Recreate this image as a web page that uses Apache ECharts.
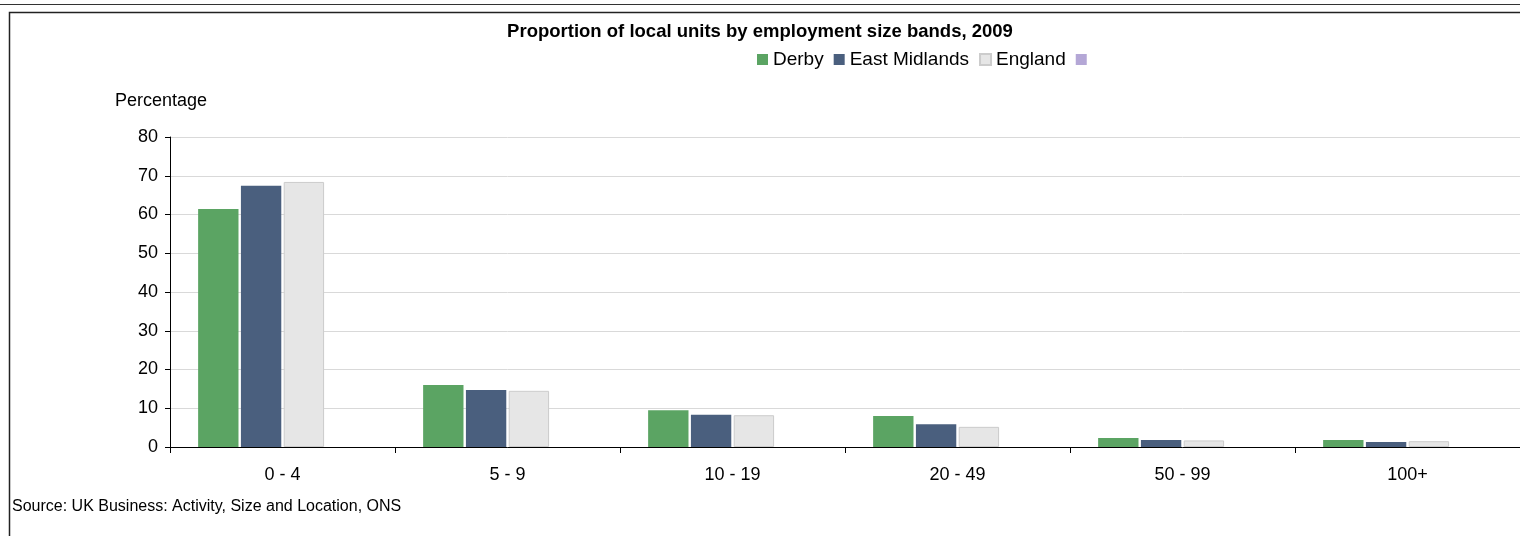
<!DOCTYPE html>
<html><head><meta charset="utf-8">
<script src="https://cdn.jsdelivr.net/npm/echarts@6/dist/echarts.min.js"></script>
<style>html,body{margin:0;padding:0;background:#fff}#c{width:1520px;height:536px}</style>
</head><body><div id="c"></div>
<script>
const categories = ['0 - 4', '5 - 9', '10 - 19', '20 - 49', '50 - 99', '100+'];
const derby = [61.4, 16.0, 9.5, 8.0, 2.3, 1.8];
const eastMidlands = [67.4, 14.7, 8.3, 5.9, 1.8, 1.3];
const england = [68.4, 14.5, 8.2, 5.2, 1.7, 1.5];
const blank = [null, null, null, null, null, null];

const chart = echarts.init(document.getElementById('c'));
const F = 'Liberation Sans, Arial, sans-serif';
chart.setOption({
  animation: false,
  textStyle: {fontFamily: F},
  title: {
    text: 'Proportion of local units by employment size bands, 2009',
    left: 'center', top: 17,
    textStyle: {fontSize: 18.5, fontWeight: 'bold', color: '#000', fontFamily: F}
  },
  legend: {
    left: 752, top: 45, itemWidth: 11, itemHeight: 11, itemGap: 10,
    icon: 'rect',
    textStyle: {fontSize: 19, color: '#000', fontFamily: F, padding: [0, 0, 0, 0]},
    data: ['Derby', 'East Midlands', 'England', ' ']
  },
  grid: {left: 170, right: 0, top: 137, bottom: 89, containLabel: false},
  xAxis: {
    type: 'category', data: categories,
    axisLine: {lineStyle: {color: '#000', width: 1}},
    axisTick: {show: true, length: 6, lineStyle: {color: '#000'}},
    axisLabel: {fontSize: 18, color: '#000', margin: 19, fontFamily: F}
  },
  yAxis: {
    type: 'value', min: 0, max: 80, interval: 10,
    axisLine: {show: true, lineStyle: {color: '#000'}},
    axisTick: {show: true, length: 5, lineStyle: {color: '#000'}},
    axisLabel: {fontSize: 18, color: '#000', margin: 12, fontFamily: F},
    splitLine: {lineStyle: {color: '#d9d9d9'}}
  },
  series: [
    {name: 'Derby', type: 'bar', data: derby, barGap: '6%', barCategoryGap: '25%',
     itemStyle: {color: '#5ba463'}},
    {name: 'East Midlands', type: 'bar', data: eastMidlands,
     itemStyle: {color: '#4a5f7e'}},
    {name: 'England', type: 'bar', data: england,
     itemStyle: {color: '#e6e6e6', borderColor: '#cccccc', borderWidth: 1}},
    {name: ' ', type: 'bar', data: blank,
     itemStyle: {color: '#b4a7d6'}}
  ],
  graphic: [
    {type: 'line', shape: {x1: 0, y1: 4.5, x2: 1520, y2: 4.5}, style: {stroke: '#333', lineWidth: 1}},
    {type: 'rect', shape: {x: 9.5, y: 12.5, width: 1600, height: 600}, style: {fill: null, stroke: '#222', lineWidth: 1.5}},
    {type: 'text', left: 115, top: 92, style: {text: 'Percentage', fontSize: 18, fill: '#000', fontFamily: F}},
    {type: 'text', left: 12, top: 499, style: {text: 'Source: UK Business: Activity, Size and Location, ONS', fontSize: 16, fill: '#000', fontFamily: F}}
  ]
});
</script></body></html>
